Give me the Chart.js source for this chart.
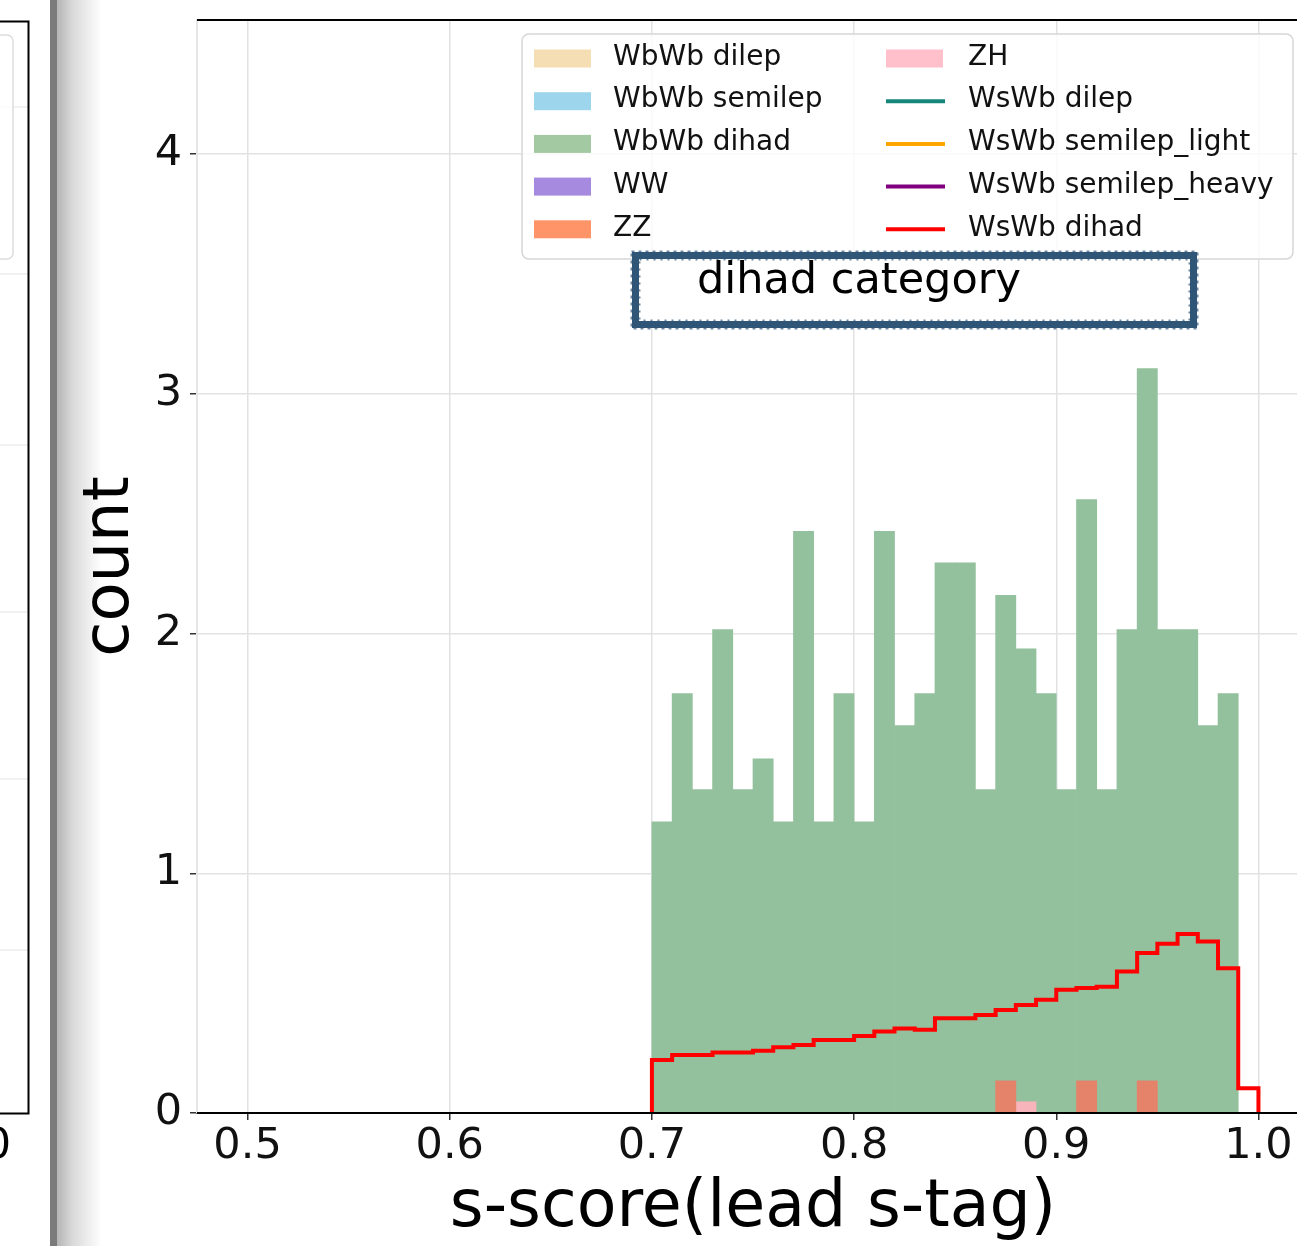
<!DOCTYPE html>
<html>
<head>
<meta charset="utf-8">
<title>dihad category - s-score(lead s-tag)</title>
<script src="https://cdn.jsdelivr.net/npm/chart.js@4.4.1/dist/chart.umd.min.js"></script>
<style>
  html, body { margin: 0; padding: 0; background: #fff; overflow: hidden; }
  #wrap { position: absolute; left: 0; top: 0; width: 1309px; height: 1246px; }
</style>
</head>
<body>
<div id="wrap"><canvas id="histChart"></canvas></div>
<script>
// ==========================
// Data
// ==========================
const binEdges = [0.70, 0.71, 0.72, 0.73, 0.74, 0.75, 0.76, 0.77, 0.78, 0.79,
                  0.80, 0.81, 0.82, 0.83, 0.84, 0.85, 0.86, 0.87, 0.88, 0.89,
                  0.90, 0.91, 0.92, 0.93, 0.94, 0.95, 0.96, 0.97, 0.98, 0.99, 1.00];

const wbwbDihad = [1.215, 1.75, 1.349, 2.017, 1.349, 1.478, 1.215, 2.427, 1.215, 1.75,
                   1.215, 2.427, 1.616, 1.75, 2.295, 2.295, 1.349, 2.16, 1.937, 1.75,
                   1.349, 2.559, 1.349, 2.017, 3.106, 2.017, 2.017, 1.616, 1.75, 0];

const zzCounts = [0, 0, 0, 0, 0, 0, 0, 0, 0, 0,
                  0, 0, 0, 0, 0, 0, 0, 0.134, 0, 0,
                  0, 0.134, 0, 0, 0.134, 0, 0, 0, 0, 0];

const zhCounts = [0, 0, 0, 0, 0, 0, 0, 0, 0, 0,
                  0, 0, 0, 0, 0, 0, 0, 0, 0.047, 0,
                  0, 0, 0, 0, 0, 0, 0, 0, 0, 0];

const wswbDihad = [0.221, 0.242, 0.242, 0.252, 0.252, 0.26, 0.274, 0.284, 0.305, 0.305,
                   0.321, 0.34, 0.353, 0.347, 0.395, 0.395, 0.409, 0.43, 0.451, 0.472,
                   0.514, 0.521, 0.527, 0.59, 0.667, 0.706, 0.747, 0.715, 0.604, 0.103];

const xTicks = [0.5, 0.6, 0.7, 0.8, 0.9, 1.0];
const yTicks = [0, 1, 2, 3, 4];

const sampleNames = ["WbWb dilep", "WbWb semilep", "WbWb dihad", "WW", "ZZ",
                     "ZH", "WsWb dilep", "WsWb semilep_light", "WsWb semilep_heavy", "WsWb dihad"];

const FONT = "DejaVu Sans";

// histogram helpers: bars sit on bin centres, step line on bin edges
function toBars(values) {
  return binEdges.slice(0, -1)
    .map((lo, i) => ({ x: (lo + binEdges[i + 1]) / 2, y: values[i] }))
    .filter((p) => p.y > 0);
}

function toStep(values) {
  const pts = [{ x: binEdges[0], y: 0 }];
  values.forEach((v, i) => pts.push({ x: binEdges[i], y: v }));
  pts.push({ x: binEdges[binEdges.length - 1], y: 0 });
  return pts;
}

function barSet(label, values, color, legendColor, order) {
  return {
    type: "bar",
    label: label,
    data: values ? toBars(values) : [],
    backgroundColor: color,
    legendColor: legendColor,
    legendKind: "patch",
    borderWidth: 0,
    barPercentage: 1,
    categoryPercentage: 1,
    grouped: false,
    order: order,
  };
}

function stepSet(label, values, color, order) {
  return {
    type: "line",
    label: label,
    data: values ? toStep(values) : [],
    borderColor: color,
    legendColor: color,
    legendKind: "line",
    borderWidth: 4,
    stepped: "before",
    pointRadius: 0,
    fill: false,
    borderJoinStyle: "miter",
    borderCapStyle: "butt",
    order: order,
  };
}

// keep the plot box where it is: no extra room for edge labels
function noEdgePadding(s) {
  s.paddingTop = 0;
  s.paddingBottom = 0;
  s.paddingLeft = 0;
  s.paddingRight = 0;
}

// ==========================
// Plugins: neighbour panel + shadow, spines, legend, category box
// ==========================
const backdrop = {
  id: "backdrop",
  beforeDraw(chart) {
    const ctx = chart.ctx;
    ctx.save();
    ctx.fillStyle = "#ffffff";
    ctx.fillRect(0, 0, chart.width, chart.height);

    // cut-off panel on the left
    ctx.strokeStyle = "#ececec";
    ctx.lineWidth = 1.5;
    [107, 274, 445, 612, 779, 950].forEach((y) => {
      ctx.beginPath(); ctx.moveTo(0, y); ctx.lineTo(28, y); ctx.stroke();
    });
    ctx.fillStyle = "rgba(255,255,255,0.8)";
    ctx.strokeStyle = "#dddddd";
    ctx.beginPath();
    ctx.roundRect(-40, 35, 53, 224, 6);
    ctx.fill(); ctx.stroke();
    ctx.strokeStyle = "#000";
    ctx.lineWidth = 2;
    ctx.strokeRect(-10, 21.5, 38.5, 1092);
    ctx.fillStyle = "#000";
    ctx.font = `43px '${FONT}'`;
    ctx.textAlign = "right";
    ctx.textBaseline = "middle";
    ctx.fillText("1.0", 11, 1147);

    // slide shadow
    ctx.fillStyle = "#7b7b7b";
    ctx.fillRect(50, 0, 7, chart.height);
    const g = ctx.createLinearGradient(57, 0, 102, 0);
    g.addColorStop(0, "#b4b4b4");
    g.addColorStop(0.35, "#dadada");
    g.addColorStop(1, "#ffffff");
    ctx.fillStyle = g;
    ctx.fillRect(57, 0, 45, chart.height);
    ctx.restore();
  },
  afterDatasetsDraw(chart) {
    const { ctx, chartArea: ca } = chart;
    ctx.save();
    ctx.strokeStyle = "#000";
    ctx.lineWidth = 2;
    ctx.beginPath();
    ctx.moveTo(ca.left, ca.top); ctx.lineTo(ca.right, ca.top);
    ctx.moveTo(ca.left, ca.bottom); ctx.lineTo(ca.right, ca.bottom);
    ctx.stroke();
    ctx.restore();
  },
  afterDraw(chart) {
    const { ctx, chartArea: ca } = chart;
    ctx.save();

    // legend, two columns of five, filled column-first
    const box = { left: ca.left + 325, top: ca.top + 14, right: ca.right - 16, bottom: ca.top + 239 };
    ctx.fillStyle = "rgba(255,255,255,0.8)";
    ctx.strokeStyle = "#d6d6d6";
    ctx.lineWidth = 1.5;
    ctx.beginPath();
    ctx.roundRect(box.left, box.top, box.right - box.left, box.bottom - box.top, 7);
    ctx.fill(); ctx.stroke();

    ctx.font = `28px '${FONT}'`;
    ctx.textAlign = "left";
    ctx.textBaseline = "middle";
    chart.data.datasets.forEach((ds, i) => {
      const col = Math.floor(i / 5);
      const row = i % 5;
      const y = box.top + 24.5 + row * 42.7;
      const px = col === 0 ? box.left + 12 : box.left + 364;
      const tx = col === 0 ? box.left + 91 : box.left + 446;
      if (ds.legendKind === "patch") {
        ctx.fillStyle = ds.legendColor;
        ctx.fillRect(px, y - 9, 57, 18);
      } else {
        ctx.strokeStyle = ds.legendColor;
        ctx.lineWidth = 4;
        ctx.beginPath(); ctx.moveTo(px, y); ctx.lineTo(px + 59, y); ctx.stroke();
      }
      ctx.fillStyle = "#111";
      ctx.fillText(ds.label, tx, y - 1);
    });

    // "dihad category" box with a rough border
    const bx = 635.5, by = 255.5, bw = 558, bh = 69;
    ctx.fillStyle = "#ffffff";
    ctx.fillRect(bx, by, bw, bh);
    ctx.strokeStyle = "#2f5577";
    ctx.lineWidth = 7;
    ctx.strokeRect(bx, by, bw, bh);
    ctx.lineWidth = 2;
    ctx.globalAlpha = 0.7;
    ctx.setLineDash([3, 4]);
    ctx.strokeRect(bx - 4, by - 4, bw + 8, bh + 8);
    ctx.setLineDash([2, 5]);
    ctx.strokeRect(bx + 4, by + 4, bw - 8, bh - 8);
    ctx.setLineDash([]);
    ctx.globalAlpha = 1;
    ctx.fillStyle = "#000";
    ctx.font = `43px '${FONT}'`;
    ctx.textBaseline = "alphabetic";
    ctx.fillText("dihad category", 697, 293);
    ctx.restore();
  },
};

// ==========================
// Chart
// ==========================
function createHistChart(ctx) {
  return new Chart(ctx, {
    type: "bar",
    data: {
      datasets: [
        barSet(sampleNames[0], null, "#f5deb3", "#f5deb3", 3),
        barSet(sampleNames[1], null, "#9dd5ed", "#9dd5ed", 3),
        barSet(sampleNames[2], wbwbDihad, "#93c09d", "#a3c9a3", 3),
        barSet(sampleNames[3], null, "#a58ae0", "#a58ae0", 3),
        barSet(sampleNames[4], zzCounts, "#e5826a", "#ff9469", 2),
        barSet(sampleNames[5], zhCounts, "#f7b4ba", "#ffc0cb", 2),
        stepSet(sampleNames[6], null, "#16877d", 1),
        stepSet(sampleNames[7], null, "#ffa500", 1),
        stepSet(sampleNames[8], null, "#800080", 1),
        stepSet(sampleNames[9], wswbDihad, "#ff0000", 0),
      ],
    },
    options: {
      responsive: true,
      maintainAspectRatio: false,
      animation: false,
      layout: { padding: { left: 0, top: 20, right: 0, bottom: 0 } },
      plugins: {
        legend: { display: false },
        tooltip: { enabled: false },
      },
      scales: {
        x: {
          type: "linear",
          min: 0.475,
          max: 1.025,
          offset: false,
          afterBuildTicks: (s) => { s.ticks = xTicks.map((v) => ({ value: v })); },
          afterFit: (s) => { s.height = 133; noEdgePadding(s); },
          grid: { offset: false, color: "#e2e2e2", lineWidth: 1.5, tickLength: 7, tickColor: "#333", tickWidth: 1.5 },
          border: { color: "#000", width: 2 },
          ticks: {
            autoSkip: false,
            maxRotation: 0,
            padding: 1,
            color: "#111",
            font: { family: FONT, size: 43, lineHeight: 1.2 },
            callback: (v) => Number(v).toFixed(1),
          },
          title: {
            display: true,
            text: "s-score(lead s-tag)",
            color: "#000",
            font: { family: FONT, size: 65, lineHeight: 1 },
            padding: { top: 0, bottom: 4 },
          },
        },
        y: {
          min: 0,
          max: 4.56,
          afterBuildTicks: (s) => { s.ticks = yTicks.map((v) => ({ value: v })); },
          afterFit: (s) => { s.width = 197; noEdgePadding(s); },
          grid: { color: "#e2e2e2", lineWidth: 1.5, tickLength: 7, tickColor: "#333", tickWidth: 1.5 },
          border: { color: "#e6e6e6", width: 2 },
          ticks: {
            padding: 8,
            color: "#111",
            font: { family: FONT, size: 43, lineHeight: 1.2 },
            callback: (v) => v,
          },
          title: {
            display: true,
            text: "count",
            color: "#000",
            font: { family: FONT, size: 64, lineHeight: 1 },
            padding: { top: 79, bottom: 0 },
          },
        },
      },
    },
    plugins: [backdrop],
  });
}

document.addEventListener("DOMContentLoaded", () => {
  const ctx = document.getElementById("histChart").getContext("2d");
  createHistChart(ctx);
});
</script>
</body>
</html>
